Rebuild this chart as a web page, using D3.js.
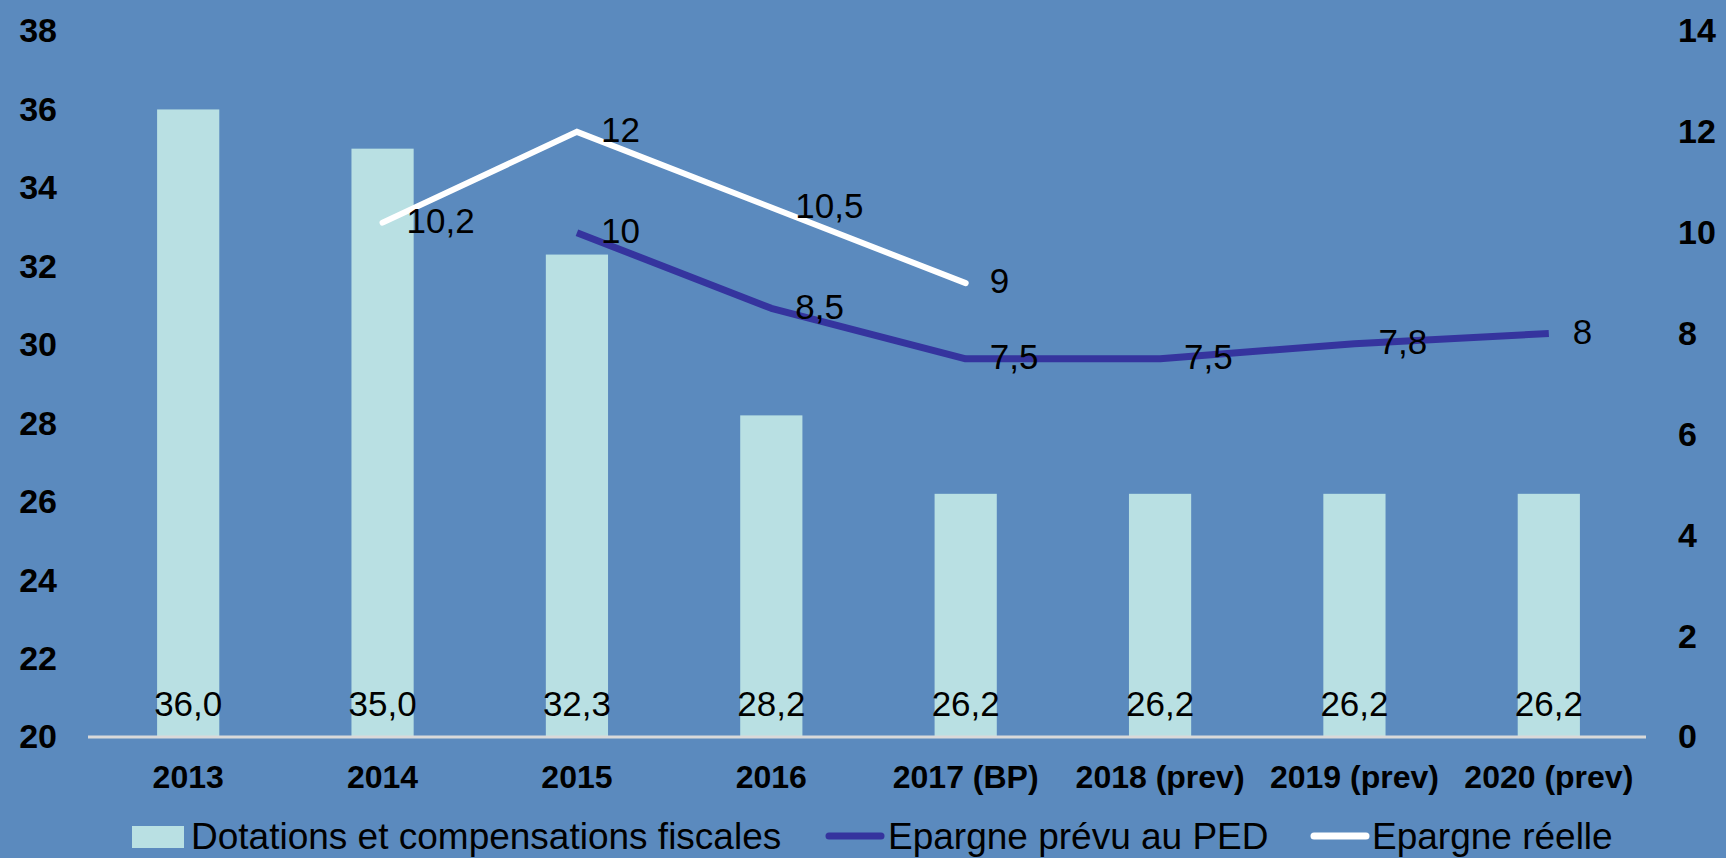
<!DOCTYPE html>
<html>
<head>
<meta charset="utf-8">
<script src="https://cdn.jsdelivr.net/npm/d3@7"></script>
<style>
    body { margin: 0; background: #5b8abe; }
    #chart-area { width: 1726px; height: 858px; }
    text { font-family: "Liberation Sans", Arial, sans-serif; fill: #000; }
</style>
</head>
<body>
<div id="chart-area"></div>
<script>

// data
let categories = ["2013", "2014", "2015", "2016", "2017 (BP)", "2018 (prev)", "2019 (prev)", "2020 (prev)"];
let dotations = [36.0, 35.0, 32.3, 28.2, 26.2, 26.2, 26.2, 26.2];
let epargnePED = [null, null, 10, 8.5, 7.5, 7.5, 7.8, 8];
let epargneReelle = [null, 10.2, 12, 10.5, 9, null, null, null];

let leftTicks = [20, 22, 24, 26, 28, 30, 32, 34, 36, 38];
let rightTicks = [0, 2, 4, 6, 8, 10, 12, 14];

let legendNames = ["Dotations et compensations fiscales", "Epargne prévu au PED", "Epargne réelle"];


class ComboVis {

    constructor(parentElement) {
        this.parentElement = parentElement;
        this.initVis();
    }

    initVis() {
        let vis = this;

        vis.width = 1726;
        vis.height = 858;

        vis.colors = {bar: "#b9e0e3", ped: "#35349e", reelle: "#ffffff", base: "#d9d9d9"};

        vis.svg = d3.select("#" + vis.parentElement).append("svg")
            .attr("width", vis.width)
            .attr("height", vis.height);

        vis.svg.append("rect")
            .attr("width", vis.width)
            .attr("height", vis.height)
            .attr("fill", "#5b8abe");

        // scales
        vis.x = d3.scaleBand()
            .domain(categories)
            .range([91, 1646])
            .paddingInner(0.68)
            .paddingOuter(0.34);

        vis.yLeft = d3.scaleLinear()
            .domain([20, 38])
            .range([737, 31]);

        vis.yRight = d3.scaleLinear()
            .domain([0, 14])
            .range([737, 31]);

        vis.fr = v => String(v).replace(".", ",");

        vis.updateVis();
    }

    updateVis() {
        let vis = this;

        // axes
        vis.svg.append("g")
            .attr("class", "y-axis-left")
            .attr("transform", "translate(57,0)")
            .call(d3.axisLeft(vis.yLeft).tickValues(leftTicks).tickSize(0).tickPadding(0))
            .call(g => g.select(".domain").remove())
            .selectAll("text")
            .style("font-size", "34px")
            .style("font-weight", "bold")
            .attr("fill", "#000");

        vis.svg.append("g")
            .attr("class", "y-axis-right")
            .attr("transform", "translate(1678,0)")
            .call(d3.axisRight(vis.yRight).tickValues(rightTicks).tickSize(0).tickPadding(0))
            .call(g => g.select(".domain").remove())
            .selectAll("text")
            .style("font-size", "34px")
            .style("font-weight", "bold")
            .attr("fill", "#000");

        // bars
        vis.svg.selectAll(".bar")
            .data(dotations)
            .enter()
            .append("rect")
            .attr("class", "bar")
            .attr("x", (d, i) => vis.x(categories[i]))
            .attr("width", vis.x.bandwidth())
            .attr("y", d => vis.yLeft(d))
            .attr("height", d => vis.yLeft(20) - vis.yLeft(d))
            .attr("fill", vis.colors.bar);

        // baseline
        vis.svg.append("line")
            .attr("x1", 88)
            .attr("x2", vis.x.range()[1])
            .attr("y1", vis.yLeft(20))
            .attr("y2", vis.yLeft(20))
            .attr("stroke", vis.colors.base)
            .attr("stroke-width", 3);

        vis.svg.append("g")
            .attr("class", "x-axis")
            .attr("transform", `translate(0,${vis.yLeft(20)})`)
            .call(d3.axisBottom(vis.x).tickSize(0).tickPadding(28))
            .call(g => g.select(".domain").remove())
            .selectAll("text")
            .style("font-size", "32px")
            .style("font-weight", "bold")
            .attr("fill", "#000");

        // bar labels at the inside base
        vis.svg.selectAll(".bar-label")
            .data(dotations)
            .enter()
            .append("text")
            .attr("class", "bar-label")
            .attr("x", (d, i) => vis.x(categories[i]) + vis.x.bandwidth() / 2)
            .attr("y", vis.yLeft(20) - 21)
            .attr("text-anchor", "middle")
            .style("font-size", "35px")
            .text(d => d.toFixed(1).replace(".", ","));

        // lines
        let cx = i => vis.x(categories[i]) + vis.x.bandwidth() / 2;

        let line = d3.line()
            .defined(d => d !== null)
            .x((d, i) => cx(i))
            .y(d => vis.yRight(d));

        vis.svg.append("path")
            .datum(epargnePED)
            .attr("d", line)
            .attr("fill", "none")
            .attr("stroke", vis.colors.ped)
            .attr("stroke-width", 7)
            .attr("stroke-linejoin", "round");

        vis.svg.append("path")
            .datum(epargneReelle)
            .attr("d", line)
            .attr("fill", "none")
            .attr("stroke", vis.colors.reelle)
            .attr("stroke-width", 6)
            .attr("stroke-linecap", "round");

        // line labels, right of point
        [epargnePED, epargneReelle].forEach(series => {
            vis.svg.append("g")
                .selectAll("text")
                .data(series.map((v, i) => ({v: v, i: i})).filter(d => d.v !== null))
                .enter()
                .append("text")
                .attr("x", d => cx(d.i) + 24)
                .attr("y", d => vis.yRight(d.v) + 1)
                .attr("dominant-baseline", "middle")
                .style("font-size", "35px")
                .text(d => vis.fr(d.v));
        });

        // legend (sits at the very bottom edge, as in the original)
        let legend = vis.svg.append("g").attr("class", "legend");

        legend.append("rect")
            .attr("x", 132)
            .attr("y", 826)
            .attr("width", 52)
            .attr("height", 22)
            .attr("fill", vis.colors.bar);

        legend.append("line")
            .attr("x1", 829).attr("x2", 881)
            .attr("y1", 836).attr("y2", 836)
            .attr("stroke", vis.colors.ped)
            .attr("stroke-width", 7)
            .attr("stroke-linecap", "round");

        legend.append("line")
            .attr("x1", 1314).attr("x2", 1366)
            .attr("y1", 836).attr("y2", 836)
            .attr("stroke", vis.colors.reelle)
            .attr("stroke-width", 7)
            .attr("stroke-linecap", "round");

        let legendX = [191, 888, 1372];
        legend.selectAll(".legend-label")
            .data(legendNames)
            .enter()
            .append("text")
            .attr("class", "legend-label")
            .attr("x", (d, i) => legendX[i])
            .attr("y", 849)
            .style("font-size", "37px")
            .text(d => d);
    }
}

let comboVis = new ComboVis("chart-area");

</script>
</body>
</html>
